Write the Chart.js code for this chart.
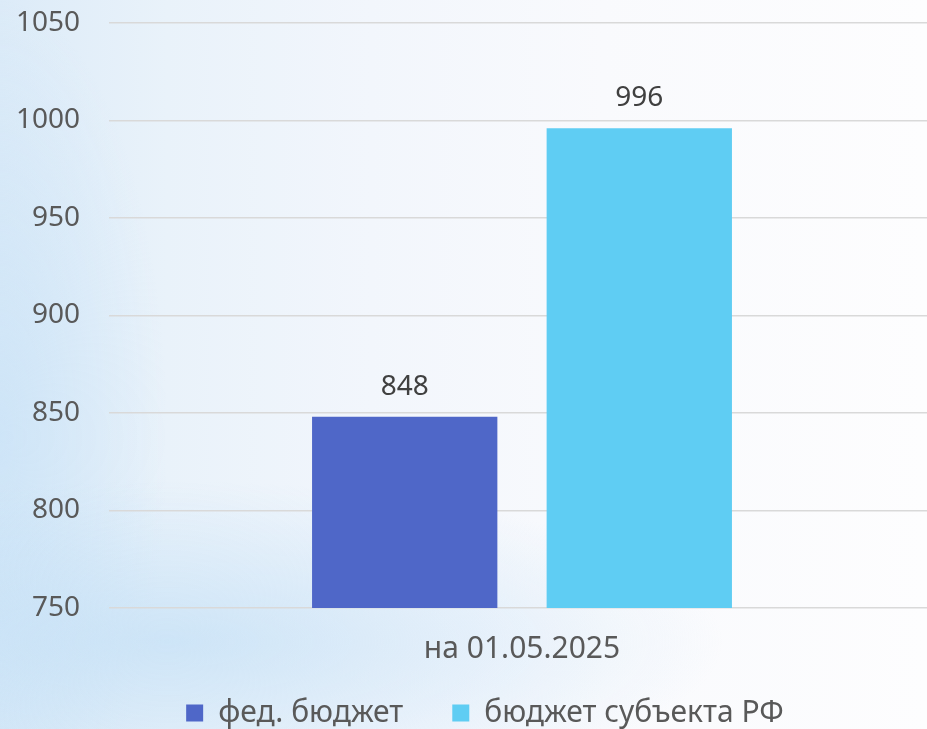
<!DOCTYPE html>
<html>
<head>
<meta charset="utf-8">
<script src="https://cdn.jsdelivr.net/npm/chart.js@4"></script>
<style>
  html, body { margin: 0; padding: 0; width: 927px; height: 729px; overflow: hidden; }
  body {
    background:
      radial-gradient(ellipse 60% 22% at 18% 88%, rgba(196,224,246,0.75), rgba(196,224,246,0) 100%),
      radial-gradient(ellipse 18% 60% at 0% 60%, rgba(200,226,247,0.7), rgba(200,226,247,0) 100%),
      linear-gradient(to right, #dcebf8 0%, #e9f2fa 18%, #f2f6fc 40%, #f9fafd 65%, #fdfdfe 100%);
  }
  #wrap { position: absolute; left: 0; top: 0; width: 970px; height: 729px; }
</style>
</head>
<body>
<div id="wrap"><canvas id="c" width="970" height="729"></canvas></div>
<script>
const categories = ['на 01.05.2025'];
const seriesNames = ['фед. бюджет', 'бюджет субъекта РФ'];
const fedValues = [848];
const subjectValues = [996];
const yMin = 750, yMax = 1050, yStep = 50;

const FONT = "'Noto Sans', 'Open Sans', sans-serif";

const valueLabels = {
  id: 'valueLabels',
  afterDatasetsDraw(chart) {
    const ctx = chart.ctx;
    ctx.save();
    ctx.font = "28px " + FONT;
    ctx.fillStyle = '#404040';
    ctx.textAlign = 'center';
    ctx.textBaseline = 'middle';
    chart.data.datasets.forEach((ds, i) => {
      const meta = chart.getDatasetMeta(i);
      meta.data.forEach((bar, j) => {
        ctx.fillText(String(ds.data[j]), bar.x, bar.y - 30);
      });
    });
    ctx.restore();
  }
};

new Chart(document.getElementById('c'), {
  type: 'bar',
  data: {
    labels: categories,
    datasets: [
      { label: seriesNames[0], data: fedValues, backgroundColor: '#4f67c8',
        categoryPercentage: 0.568, barPercentage: 0.79 },
      { label: seriesNames[1], data: subjectValues, backgroundColor: '#5fcdf3',
        categoryPercentage: 0.568, barPercentage: 0.79 }
    ]
  },
  options: {
    responsive: false,
    animation: false,
    layout: { padding: { left: 0, top: 0, right: 0, bottom: -9 } },
    plugins: {
      legend: {
        position: 'bottom',
        labels: {
          boxWidth: 17, boxHeight: 17, padding: 49,
          color: '#595959',
          font: { family: FONT, size: 30 }
        }
      },
      tooltip: { enabled: false }
    },
    scales: {
      x: {
        grid: { display: false },
        border: { display: false },
        ticks: { color: '#595959', font: { family: FONT, size: 30 }, mirror: true, padding: -59 },
        afterFit(scale) { scale.height = 41; }
      },
      y: {
        min: yMin, max: yMax,
        grid: { color: '#d9d9d9', lineWidth: 1.5, drawTicks: true, tickLength: 23, tickColor: 'rgba(0,0,0,0)' },
        border: { display: false },
        ticks: { stepSize: yStep, color: '#595959', font: { family: FONT, size: 28 }, padding: 6,
                 callback: (v) => String(v) },
        afterFit(scale) { scale.width = 109; }
      },
      yRight: {
        position: 'right',
        grid: { display: false },
        border: { display: false },
        ticks: { display: false },
        afterFit(scale) { scale.width = 35; }
      }
    }
  },
  plugins: [valueLabels]
});
</script>
</body>
</html>
